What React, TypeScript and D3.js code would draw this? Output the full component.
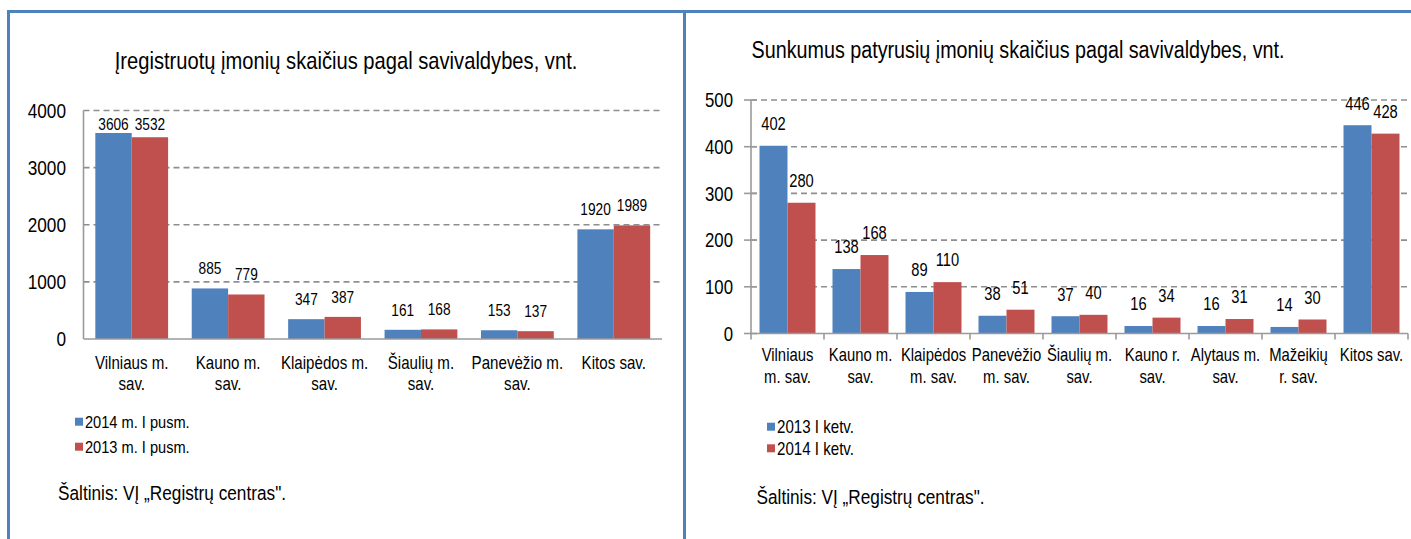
import React from "react";
import * as d3 from "d3";

// ---------- data ----------
const leftTitle = "Įregistruotų įmonių skaičius pagal savivaldybes, vnt.";
const leftCategories = [
  "Vilniaus m.\nsav.",
  "Kauno m.\nsav.",
  "Klaipėdos m.\nsav.",
  "Šiaulių m.\nsav.",
  "Panevėžio m.\nsav.",
  "Kitos sav.",
];
const leftSeriesNames = ["2014 m. I pusm.", "2013 m. I pusm."];
const leftSeriesA = [3606, 885, 347, 161, 153, 1920];
const leftSeriesB = [3532, 779, 387, 168, 137, 1989];
const leftTicks = [0, 1000, 2000, 3000, 4000];

const rightTitle = "Sunkumus patyrusių įmonių skaičius pagal savivaldybes, vnt.";
const rightCategories = [
  "Vilniaus\nm. sav.",
  "Kauno m.\nsav.",
  "Klaipėdos\nm. sav.",
  "Panevėžio\nm. sav.",
  "Šiaulių m.\nsav.",
  "Kauno r.\nsav.",
  "Alytaus m.\nsav.",
  "Mažeikių\nr. sav.",
  "Kitos sav.",
];
const rightSeriesNames = ["2013 I ketv.", "2014 I ketv."];
const rightSeriesA = [402, 138, 89, 38, 37, 16, 16, 14, 446];
const rightSeriesB = [280, 168, 110, 51, 40, 34, 31, 30, 428];
const rightTicks = [0, 100, 200, 300, 400, 500];

const sourceText = "Šaltinis: VĮ „Registrų centras\".";

// ---------- style ----------
const BLUE = "#4F81BD";
const RED = "#C0504D";
const FRAME = "#4F81BD";
const GRID = "#8E8E8E";
const AXIS = "#9A9A9A";
const FONT = "'Liberation Sans', Arial, sans-serif";
const SX = 0.84;

function T({ x, y, s, anchor = "start", children }: any) {
  return (
    <text
      transform={`translate(${x},${y}) scale(${SX},1)`}
      fontSize={s}
      textAnchor={anchor}
      fontFamily={FONT}
      fill="#000"
    >
      {children}
    </text>
  );
}

type PanelCfg = {
  title: string;
  titleX: number;
  titleY: number;
  titleSize: number;
  categories: string[];
  names: string[];
  a: number[];
  b: number[];
  ticks: number[];
  x0: number;
  x1: number;
  yTop: number;
  yBot: number;
  pad: number;
  tickSize: number;
  tickLabelX: number;
  labelSize: number;
  labelLift: number;
  labelMinGap: number;
  catSize: number;
  catY: number;
  catLine: number;
  legX: number;
  legY: number[];
  legSize: number;
  srcX: number;
  srcY: number;
  crossTicks: boolean;
};

function Panel(c: PanelCfg) {
  const x = d3
    .scaleBand<string>()
    .domain(c.categories)
    .range([c.x0, c.x1])
    .paddingInner(c.pad)
    .paddingOuter(c.pad / 2);
  const inner = d3
    .scaleBand<number>()
    .domain([0, 1])
    .range([0, x.bandwidth()]);
  const y = d3
    .scaleLinear()
    .domain([0, c.ticks[c.ticks.length - 1]])
    .range([c.yBot, c.yTop]);
  const series = [c.a, c.b];
  const colors = [BLUE, RED];
  const step = x.step();

  return (
    <g>
      <T x={c.titleX} y={c.titleY} s={c.titleSize} anchor="middle">
        {c.title}
      </T>
      {/* gridlines */}
      {c.ticks
        .filter((t) => t !== 0)
        .map((t) => (
          <line
            key={"g" + t}
            x1={c.x0}
            x2={c.x1}
            y1={y(t)}
            y2={y(t)}
            stroke={GRID}
            strokeWidth={1.6}
            strokeDasharray="6,4"
          />
        ))}
      {/* y tick labels */}
      {c.ticks.map((t) => (
        <T key={"t" + t} x={c.tickLabelX} y={y(t) + c.tickSize * 0.36} s={c.tickSize} anchor="end">
          {t}
        </T>
      ))}
      {/* bars */}
      {series.map((vals, si) =>
        vals.map((v, i) => (
          <rect
            key={`b${si}-${i}`}
            x={(x(c.categories[i]) as number) + (inner(si) as number)}
            y={y(v)}
            width={inner.bandwidth()}
            height={c.yBot - y(v)}
            fill={colors[si]}
          />
        ))
      )}
      {/* data labels */}
      {series.map((vals, si) =>
        vals.map((v, i) => {
          const cx = (x(c.categories[i]) as number) + (inner(si) as number) + inner.bandwidth() / 2;
          const cy = Math.max(y(v) - c.labelLift, c.yTop + c.labelMinGap);
          return (
            <T key={`l${si}-${i}`} x={cx} y={cy + c.labelSize * 0.36} s={c.labelSize} anchor="middle">
              {v}
            </T>
          );
        })
      )}
      {/* axes */}
      <line x1={c.x0} x2={c.x0} y1={c.yTop} y2={c.yBot} stroke={AXIS} strokeWidth={1.6} />
      <line x1={c.x0} x2={c.x1} y1={c.yBot} y2={c.yBot} stroke={AXIS} strokeWidth={1.6} />
      {c.crossTicks &&
        c.ticks.map((t) => (
          <line key={"ct" + t} x1={c.x0 - 7} x2={c.x0 + 6} y1={y(t)} y2={y(t)} stroke={AXIS} strokeWidth={1.6} />
        ))}
      {c.crossTicks &&
        d3.range(c.categories.length + 1).map((i) => (
          <line
            key={"xt" + i}
            x1={c.x0 + i * step}
            x2={c.x0 + i * step}
            y1={c.yBot}
            y2={c.yBot + 6}
            stroke={AXIS}
            strokeWidth={1.6}
          />
        ))}
      {/* category labels */}
      {c.categories.map((cat, i) => {
        const cx = (x(cat) as number) + x.bandwidth() / 2;
        return cat.split("\n").map((ln, li) => (
          <T key={`c${i}-${li}`} x={cx} y={c.catY + li * c.catLine + c.catSize * 0.36} s={c.catSize} anchor="middle">
            {ln}
          </T>
        ));
      })}
      {/* legend */}
      {c.names.map((n, i) => (
        <g key={"lg" + i}>
          <rect x={c.legX} y={c.legY[i] - 4} width={8} height={8} fill={colors[i]} />
          <T x={c.legX + 10} y={c.legY[i] + c.legSize * 0.36} s={c.legSize}>
            {n}
          </T>
        </g>
      ))}
      <T x={c.srcX} y={c.srcY + 20.5 * 0.36} s={20.5}>
        {sourceText}
      </T>
    </g>
  );
}

export default function App() {
  return (
    <svg
      width={1411}
      height={539}
      style={{ position: "absolute", left: 0, top: 0, background: "#fff" }}
    >
      <rect x={0} y={0} width={1411} height={539} fill="#fff" />
      {/* frame */}
      <line x1={7} x2={1411} y1={11.5} y2={11.5} stroke={FRAME} strokeWidth={3} />
      <line x1={8.5} x2={8.5} y1={10} y2={539} stroke={FRAME} strokeWidth={3} />
      <line x1={684.5} x2={684.5} y1={10} y2={539} stroke={FRAME} strokeWidth={3} />

      <Panel
        title={leftTitle}
        titleX={346}
        titleY={69}
        titleSize={24}
        categories={leftCategories}
        names={leftSeriesNames}
        a={leftSeriesA}
        b={leftSeriesB}
        ticks={leftTicks}
        x0={83.5}
        x1={662}
        yTop={110.5}
        yBot={339}
        pad={0.245}
        tickSize={20.5}
        tickLabelX={66}
        labelSize={16.3}
        labelLift={20}
        labelMinGap={14}
        catSize={18}
        catY={363}
        catLine={20.5}
        legX={75}
        legY={[421.7, 446.7]}
        legSize={17.4}
        srcX={58}
        srcY={493}
        crossTicks={false}
      />
      <Panel
        title={rightTitle}
        titleX={1018}
        titleY={58}
        titleSize={23.5}
        categories={rightCategories}
        names={rightSeriesNames}
        a={rightSeriesA}
        b={rightSeriesB}
        ticks={rightTicks}
        x0={751}
        x1={1408}
        yTop={100}
        yBot={333.5}
        pad={0.233}
        tickSize={20}
        tickLabelX={733}
        labelSize={17.5}
        labelLift={22}
        labelMinGap={-100}
        catSize={17.7}
        catY={355}
        catLine={21.7}
        legX={767}
        legY={[426.7, 448.3]}
        legSize={18}
        srcX={756.5}
        srcY={496.7}
        crossTicks={true}
      />
    </svg>
  );
}
